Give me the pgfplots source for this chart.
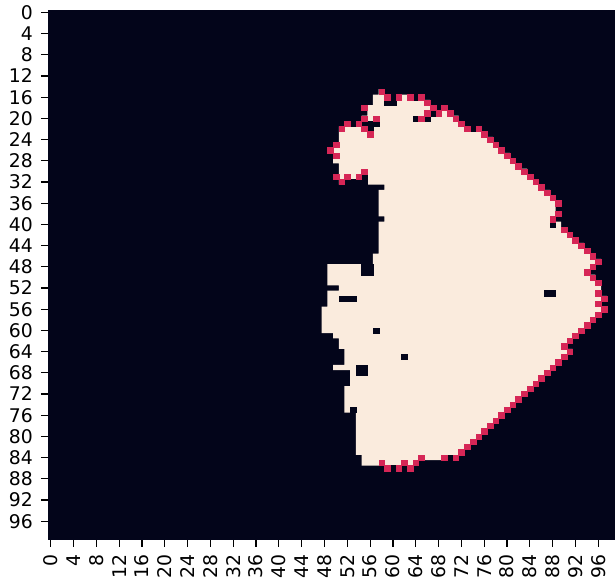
\documentclass[border=0pt]{standalone}
\usepackage{fontspec}
\setmainfont{DejaVu Sans}
\usepackage{pgfplots}
\usepackage{pgfplotstable}
\pgfplotsset{compat=1.18}

\definecolor{maskbg}{HTML}{03051A}
\definecolor{maskfg}{HTML}{FAEBDD}
\definecolor{maskedge}{RGB}{214,38,86}

% Outline of the filled region (cell edges at half-integers, row index grows downward)
\pgfplotstableread{
x y
58.5 14.5
58.5 15.5
65.5 15.5
65.5 16.5
66.5 16.5
66.5 17.5
69.5 17.5
69.5 18.5
70.5 18.5
70.5 19.5
71.5 19.5
71.5 20.5
72.5 20.5
72.5 21.5
75.5 21.5
75.5 22.5
76.5 22.5
76.5 23.5
77.5 23.5
77.5 24.5
78.5 24.5
78.5 25.5
79.5 25.5
79.5 26.5
80.5 26.5
80.5 27.5
81.5 27.5
81.5 28.5
82.5 28.5
82.5 29.5
83.5 29.5
83.5 30.5
84.5 30.5
84.5 31.5
85.5 31.5
85.5 32.5
86.5 32.5
86.5 33.5
87.5 33.5
87.5 34.5
88.5 34.5
88.5 35.5
89.5 35.5
89.5 36.5
88.5 36.5
88.5 37.5
89.5 37.5
89.5 38.5
88.5 38.5
88.5 39.5
89.5 39.5
89.5 40.5
90.5 40.5
90.5 41.5
91.5 41.5
91.5 42.5
92.5 42.5
92.5 43.5
93.5 43.5
93.5 44.5
94.5 44.5
94.5 45.5
95.5 45.5
95.5 46.5
96.5 46.5
96.5 47.5
95.5 47.5
95.5 48.5
94.5 48.5
94.5 49.5
95.5 49.5
95.5 50.5
96.5 50.5
96.5 53.5
97.5 53.5
97.5 54.5
96.5 54.5
96.5 55.5
97.5 55.5
97.5 56.5
96.5 56.5
96.5 57.5
95.5 57.5
95.5 58.5
94.5 58.5
94.5 59.5
93.5 59.5
93.5 60.5
92.5 60.5
92.5 61.5
91.5 61.5
91.5 62.5
90.5 62.5
90.5 63.5
91.5 63.5
91.5 64.5
90.5 64.5
90.5 65.5
89.5 65.5
89.5 66.5
88.5 66.5
88.5 67.5
87.5 67.5
87.5 68.5
86.5 68.5
86.5 69.5
85.5 69.5
85.5 70.5
84.5 70.5
84.5 71.5
83.5 71.5
83.5 72.5
82.5 72.5
82.5 73.5
81.5 73.5
81.5 74.5
80.5 74.5
80.5 75.5
79.5 75.5
79.5 76.5
78.5 76.5
78.5 77.5
77.5 77.5
77.5 78.5
76.5 78.5
76.5 79.5
75.5 79.5
75.5 80.5
74.5 80.5
74.5 81.5
73.5 81.5
73.5 82.5
72.5 82.5
72.5 83.5
71.5 83.5
71.5 84.5
64.5 84.5
64.5 85.5
63.5 85.5
63.5 86.5
58.5 86.5
58.5 85.5
54.5 85.5
54.5 83.5
53.5 83.5
53.5 75.5
51.5 75.5
51.5 70.5
52.5 70.5
52.5 67.5
49.5 67.5
49.5 66.5
51.5 66.5
51.5 63.5
50.5 63.5
50.5 61.5
49.5 61.5
49.5 60.5
47.5 60.5
47.5 55.5
48.5 55.5
48.5 52.5
50.5 52.5
50.5 51.5
48.5 51.5
48.5 47.5
56.5 47.5
56.5 45.5
57.5 45.5
57.5 39.5
58.5 39.5
58.5 38.5
57.5 38.5
57.5 33.5
58.5 33.5
58.5 32.5
50.5 32.5
50.5 31.5
49.5 31.5
49.5 30.5
50.5 30.5
50.5 28.5
49.5 28.5
49.5 26.5
48.5 26.5
48.5 25.5
49.5 25.5
49.5 24.5
50.5 24.5
50.5 21.5
51.5 21.5
51.5 20.5
54.5 20.5
54.5 19.5
55.5 19.5
55.5 18.5
54.5 18.5
54.5 17.5
56.5 17.5
56.5 15.5
57.5 15.5
57.5 14.5
58.5 14.5
}\regionoutline

% Cells with value 0 inside the outline
\pgfplotstableread{
col row
60 16
64 16
59 17
60 17
68 18
67 19
64 20
66 20
53 21
55 21
56 21
57 21
56 22
74 22
55 31
52 32
53 32
54 32
55 32
88 40
55 48
56 48
55 49
56 49
87 53
88 53
51 54
52 54
53 54
57 60
62 65
54 67
55 67
54 68
55 68
53 75
70 84
60 86
62 86
}\holecells

% Boundary cells with intermediate value
\pgfplotstableread{
col row
58 15
59 16
61 16
63 16
65 16
66 17
55 18
67 18
69 18
66 19
68 19
70 19
55 20
57 20
65 20
71 20
52 21
54 21
72 21
51 22
55 22
73 22
75 22
56 23
76 23
77 24
50 25
78 25
49 26
79 26
50 27
80 27
81 28
82 29
55 30
83 30
50 31
52 31
54 31
84 31
51 32
85 32
86 33
87 34
88 35
89 36
89 38
88 39
90 41
91 42
92 43
93 44
94 45
95 46
96 47
95 48
94 49
95 50
96 51
96 53
97 54
96 55
97 56
96 57
95 58
94 59
93 60
92 61
91 62
90 63
91 64
90 65
89 66
88 67
87 68
86 69
85 70
84 71
83 72
82 73
81 74
80 75
79 76
78 77
77 78
76 79
75 80
74 81
73 82
72 83
65 84
69 84
71 84
58 85
62 85
64 85
59 86
61 86
63 86
}\edgecells

\begin{document}
\begin{tikzpicture}
\begin{axis}[
  at={(23.93pt,19.65pt)}, anchor=south west,
  scale only axis, width=285.2pt, height=265pt,
  xmin=-0.5, xmax=99.5, ymin=-0.5, ymax=99.5,
  y dir=reverse,
  axis background/.style={fill=maskbg},
  axis line style={draw=none},
  xtick={0,4,...,96}, ytick={0,4,...,96},
  xtick pos=lower, xticklabel pos=lower,
  ytick pos=left, yticklabel pos=left,
  tick align=outside,
  major tick length=3.5pt,
  tick style={black, line width=0.6pt},
  xticklabel style={rotate=90, anchor=east},
  yticklabel style={anchor=east},
  ticklabel style={font=\fontsize{9.4}{11}\selectfont, inner sep=3.8pt},
  /pgf/number format/assume math mode=true,
]
\addplot[draw=none, fill=maskfg, mark=none] table[x=x, y=y] {\regionoutline};
\addplot[only marks, mark=square*, mark size=1.426pt,
  mark options={fill=maskbg, draw=maskbg, line width=0.15pt, yscale=0.929}]
  table[x=col, y=row] {\holecells};
\addplot[only marks, mark=square*, mark size=1.426pt,
  mark options={fill=maskedge, draw=maskedge, line width=0.15pt, yscale=0.929}]
  table[x=col, y=row] {\edgecells};
\end{axis}
\pgfresetboundingbox
\path[use as bounding box] (0,0) rectangle (307.5pt,289.5pt);
\end{tikzpicture}
\end{document}
